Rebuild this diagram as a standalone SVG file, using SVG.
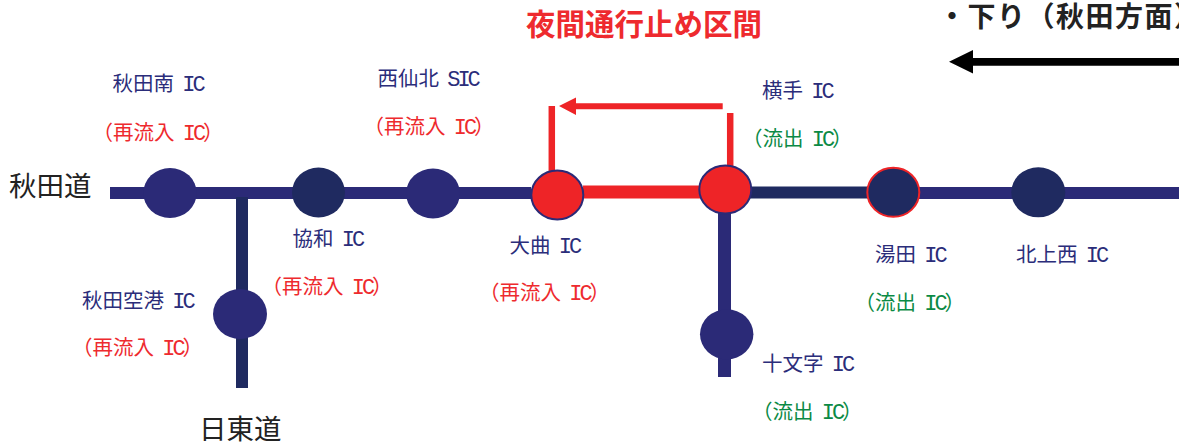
<svg xmlns="http://www.w3.org/2000/svg" width="1179" height="445" viewBox="0 0 1179 445">
<style>
text{font-family:"Noto Sans CJK JP","Noto Sans",sans-serif;font-size:20.500px;fill:#2b2d7a}
.ic{font-family:"Liberation Mono",monospace;font-size:22px;letter-spacing:-3px}
text.r{fill:#ee2a2e}
text.g{fill:#0b8a45}
text.big{font-size:27.500px;fill:#222}
text.title{font-size:29.500px;font-weight:700;fill:#ee2a2e}
text.dir{font-size:28px;font-weight:700;fill:#222;letter-spacing:1.500px}
.n{fill:#2b2a77}
.d{fill:#1f2a60}
.hot{fill:#ee2427;stroke:#2b2a77;stroke-width:2}
.ring{fill:#1f2a60;stroke:#ee2427;stroke-width:2}
.l{fill:none;stroke-width:12}
.m{fill:none;stroke-width:13}
.t{fill:none;stroke-width:6.500}
</style>
<g id="connectors">
<path class="l" stroke="#2b2a77" d="M110 193H531"/>
<path class="l" stroke="#2b2a77" d="M915 193H1179"/>
<path class="l" stroke="#1f2a60" d="M750 192.500H870"/>
<path class="l" stroke="#1f2a60" d="M242 197V388"/>
<path class="m" stroke="#2b2a77" d="M724.500 210V377"/>
<path class="m" stroke="#ee2427" d="M583 192H700"/>
<path class="t" stroke="#ee2427" d="M551.800 106V172"/>
<path class="t" stroke="#ee2427" d="M730.200 113V167"/>
<path d="M722.700 103.300H576V97.500L559 106L576 115V109.300H722.700Z" fill="#ee2427"/>
<path d="M1179 58H973V50L949 61.800L973 73.500V65.700H1179Z" fill="#000"/>
</g>
<g id="n-akitaminami"><ellipse class="n" cx="170" cy="193" rx="26.700" ry="25"/>
<text x="112.500" y="91">秋田南<tspan class="ic" dx="-2"> IC</tspan></text><text class="r" x="92.500" y="140">（再流入<tspan class="ic" dx="-2"> IC</tspan>）</text></g>
<g id="n-kyowa"><ellipse class="d" cx="318.500" cy="192.500" rx="26.500" ry="25"/>
<text x="292.500" y="246">協和<tspan class="ic" dx="-2"> IC</tspan></text><text class="r" x="261.500" y="294">（再流入<tspan class="ic" dx="-2"> IC</tspan>）</text></g>
<g id="n-nishisenboku"><ellipse class="n" cx="433" cy="193.500" rx="27" ry="25"/>
<text x="377.500" y="86">西仙北<tspan class="ic" dx="-2"> SIC</tspan></text><text class="r" x="363.500" y="134">（再流入<tspan class="ic" dx="-2"> IC</tspan>）</text></g>
<g id="n-omagari"><ellipse class="hot" cx="557.300" cy="195" rx="26" ry="24.500"/>
<text x="509.500" y="253">大曲<tspan class="ic" dx="-2"> IC</tspan></text><text class="r" x="479" y="300">（再流入<tspan class="ic" dx="-2"> IC</tspan>）</text></g>
<g id="n-yokote"><ellipse class="hot" cx="725.300" cy="189.500" rx="26" ry="24"/>
<text x="762" y="98">横手<tspan class="ic" dx="-2"> IC</tspan></text><text class="g" x="742" y="146">（流出<tspan class="ic" dx="-2"> IC</tspan>）</text></g>
<g id="n-yuda"><ellipse class="ring" cx="893.300" cy="192.300" rx="26" ry="24.500"/>
<text x="875" y="262">湯田<tspan class="ic" dx="-2"> IC</tspan></text><text class="g" x="854.500" y="310">（流出<tspan class="ic" dx="-2"> IC</tspan>）</text></g>
<g id="n-kitakaminishi"><ellipse class="d" cx="1038.300" cy="192.300" rx="27" ry="25"/>
<text x="1016" y="262">北上西<tspan class="ic" dx="-2"> IC</tspan></text></g>
<g id="n-akitakuko"><ellipse class="n" cx="240" cy="314" rx="27" ry="25"/>
<text x="82" y="308">秋田空港<tspan class="ic" dx="-2"> IC</tspan></text><text class="r" x="72" y="355">（再流入<tspan class="ic" dx="-2"> IC</tspan>）</text></g>
<g id="n-jumonji"><ellipse class="n" cx="726.700" cy="334.300" rx="26.700" ry="25"/>
<text x="762" y="371">十文字<tspan class="ic" dx="-2"> IC</tspan></text><text class="g" x="752" y="419">（流出<tspan class="ic" dx="-2"> IC</tspan>）</text></g>
<g id="labels">
<text class="big" x="9" y="196">秋田道</text>
<text class="big" x="199" y="439">日東道</text>
<text class="title" x="526" y="35">夜間通行止め区間</text>
<text class="dir" x="938" y="27">・下り（秋田方面）</text>
</g>
</svg>
